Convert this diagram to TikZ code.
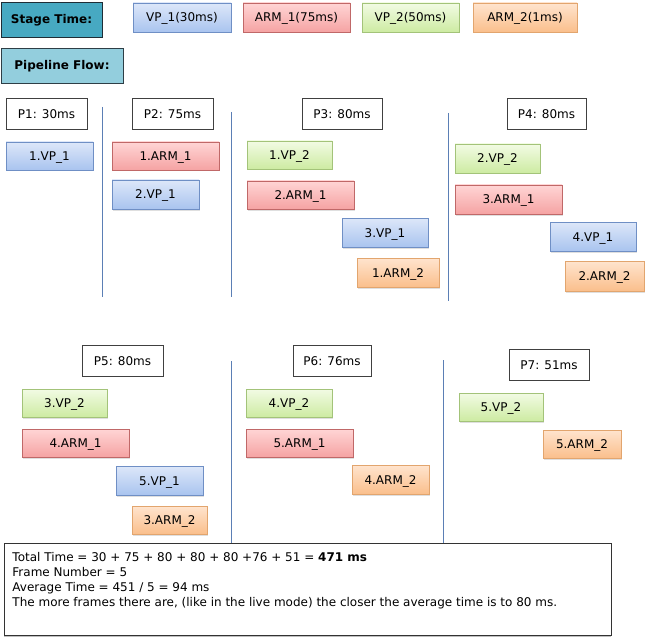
\documentclass[tikz,border=0pt]{standalone}
\usepackage{fontspec}
\setmainfont{DejaVu Sans}
\usetikzlibrary{shadows}
\definecolor{vpAt}{HTML}{DDE7F9}\definecolor{vpAb}{HTML}{A9C4EF}\definecolor{vpAd}{HTML}{6F8FC5}
\definecolor{arAt}{HTML}{FFD5D5}\definecolor{arAb}{HTML}{F5A3A3}\definecolor{arAd}{HTML}{C06868}
\definecolor{vpBt}{HTML}{F2FBE4}\definecolor{vpBb}{HTML}{CDEBA2}\definecolor{vpBd}{HTML}{A3C379}
\definecolor{arBt}{HTML}{FFE4CE}\definecolor{arBb}{HTML}{FABF8C}\definecolor{arBd}{HTML}{E2A56E}
\definecolor{stfill}{HTML}{47A9C2}\definecolor{stdraw}{HTML}{1E2D36}
\definecolor{pffill}{HTML}{93CEDD}\definecolor{pfdraw}{HTML}{2E3E46}
\definecolor{sepcol}{HTML}{5B7FB5}
\begin{document}
\begin{tikzpicture}[x=1pt,y=-1pt,
  every node/.style={font=\fontsize{12}{15}\selectfont, inner sep=0pt},
  task/.style={draw, line width=0.8pt, text height=9pt, text depth=0pt,
    drop shadow={shadow xshift=1pt, shadow yshift=-1.5pt, opacity=0.25}},
  vpone/.style={task, top color=vpAt, bottom color=vpAb, draw=vpAd},
  armone/.style={task, top color=arAt, bottom color=arAb, draw=arAd},
  vptwo/.style={task, top color=vpBt, bottom color=vpBb, draw=vpBd},
  armtwo/.style={task, top color=arBt, bottom color=arBb, draw=arBd},
  legend/.style={text height=8pt, text depth=0pt},
  period/.style={draw=black!75, fill=white, line width=0.9pt, text height=10pt, text depth=0pt},
  header/.style={line width=1pt, font=\fontsize{12}{15}\selectfont\bfseries},
  sepline/.style={draw=sepcol, line width=0.9pt},
  sz/.style 2 args={minimum width=#1pt, minimum height=#2pt}
]
\useasboundingbox (0,0) rectangle (652,636);

% legend
\node[header, draw=stdraw, fill=stfill, sz={101}{35}] (st) at (51.5,20.5) {\raisebox{3pt}{Stage Time:}};
\node[vpone, legend, sz={98}{29}] (kvp1) at (182,17.5) {VP\_1(30ms)};
\node[armone, legend, sz={107}{29}] (karm1) at (296.5,17.5) {ARM\_1(75ms)};
\node[vptwo, legend, sz={97}{29}] (kvp2) at (410.5,17.5) {VP\_2(50ms)};
\node[armtwo, legend, sz={104}{29}] (karm2) at (525,17.5) {ARM\_2(1ms)};
\node[header, draw=pfdraw, fill=pffill, sz={122}{35}] (pf) at (62,66.5) {\raisebox{3pt}{Pipeline Flow:}};

% period headers
\node[period, sz={81}{31}] (p1) at (46.5,113.5) {P1: 30ms};
\node[period, sz={81}{31}] (p2) at (172.5,113.5) {P2: 75ms};
\node[period, sz={80}{31}] (p3) at (342,113.5) {P3: 80ms};
\node[period, sz={79}{31}] (p4) at (546.5,113.5) {P4: 80ms};
\node[period, sz={81}{31}] (p5) at (122.5,360.5) {P5: 80ms};
\node[period, sz={78}{31}] (p6) at (332,360.5) {P6: 76ms};
\node[period, sz={80}{31}] (p7) at (549,364.5) {P7: 51ms};

% P1
\node[vpone, sz={87}{28}] (a1) at (49.5,156) {1.VP\_1};
% P2
\node[armone, sz={107}{28}] (b1) at (165.5,156) {1.ARM\_1};
\node[vpone, sz={87}{29}] (b2) at (155.5,194.5) {2.VP\_1};
% P3
\node[vptwo, sz={85}{28}] (c1) at (289.5,155) {1.VP\_2};
\node[armone, sz={107}{28}] (c2) at (300.5,195) {2.ARM\_1};
\node[vpone, sz={86}{29}] (c3) at (385,232.5) {3.VP\_1};
\node[armtwo, sz={82}{29}] (c4) at (398,272.5) {1.ARM\_2};
% P4
\node[vptwo, sz={85}{29}] (d1) at (497.5,158.5) {2.VP\_2};
\node[armone, sz={107}{29}] (d2) at (508.5,199.5) {3.ARM\_1};
\node[vpone, sz={86}{29}] (d3) at (593,236.5) {4.VP\_1};
\node[armtwo, sz={79}{30}] (d4) at (604.5,276) {2.ARM\_2};
% P5
\node[vptwo, sz={85}{28}] (e1) at (64.5,403) {3.VP\_2};
\node[armone, sz={107}{28}] (e2) at (75.5,443) {4.ARM\_1};
\node[vpone, sz={87}{29}] (e3) at (159.5,480.5) {5.VP\_1};
\node[armtwo, sz={75}{28}] (e4) at (169.5,520) {3.ARM\_2};
% P6
\node[vptwo, sz={86}{28}] (f1) at (289,403) {4.VP\_2};
\node[armone, sz={107}{28}] (f2) at (299.5,443) {5.ARM\_1};
\node[armtwo, sz={77}{29}] (f3) at (390.5,479.5) {4.ARM\_2};
% P7
\node[vptwo, sz={84}{28}] (g1) at (501,407) {5.VP\_2};
\node[armtwo, sz={78}{28}] (g2) at (582,444) {5.ARM\_2};

% summary
\node[draw=black!80, fill=white, line width=0.9pt, anchor=north west,
      drop shadow={shadow xshift=0pt, shadow yshift=-1.2pt, opacity=0.5},
      inner xsep=8pt, inner ysep=0pt] (sum) at (4,543)
  {\begin{minipage}[c][92pt][t]{591pt}\vspace*{9pt}%
   Total Time = 30 + 75 + 80 + 80 + 80 +76 + 51 = \textbf{471 ms}\\
   Frame Number = 5\\
   Average Time = 451 / 5 = 94 ms\\
   The more frames there are, (like in the live mode) the closer the average time is to 80 ms.
   \end{minipage}};

% separators
\coordinate (s1a) at (102,107); \coordinate (s1b) at (102,297);
\coordinate (s2a) at (231,112); \coordinate (s2b) at (231,297);
\coordinate (s3a) at (448,113); \coordinate (s3b) at (448,301);
\coordinate (s4a) at (231,361);
\coordinate (s5a) at (443,360);
\draw[sepline] (s1a) -- (s1b);
\draw[sepline] (s2a) -- (s2b);
\draw[sepline] (s3a) -- (s3b);
\draw[sepline] (s4a) -- (s4a |- sum.north);
\draw[sepline] (s5a) -- (s5a |- sum.north);
\end{tikzpicture}
\end{document}
